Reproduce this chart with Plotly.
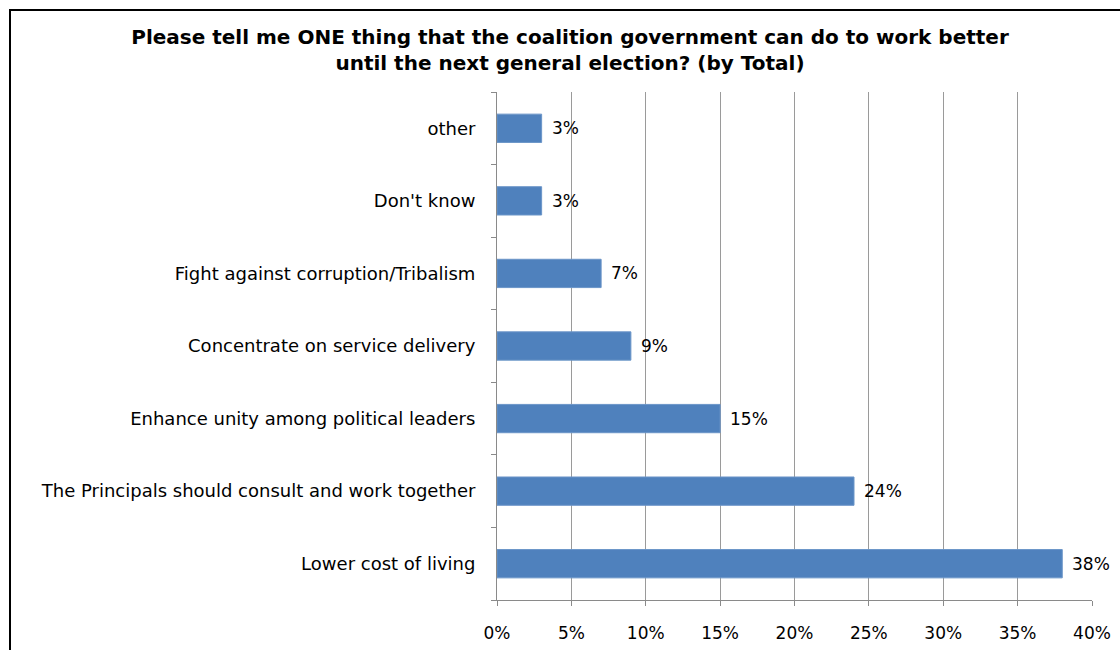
import plotly.graph_objects as go

# Survey answers, listed from the bottom bar upwards
categories = [
    "Lower cost of living",
    "The Principals should consult and work together",
    "Enhance unity among political leaders",
    "Concentrate on service delivery",
    "Fight against corruption/Tribalism",
    "Don't know",
    "other",
]
values = [38, 24, 15, 9, 7, 3, 3]
x_ticks = [0, 5, 10, 15, 20, 25, 30, 35, 40]
x_tick_labels = [f"{v}%" for v in x_ticks]

FONT = "DejaVu Sans, Noto Sans, sans-serif"

fig = go.Figure(
    go.Bar(
        x=values,
        y=categories,
        orientation="h",
        marker=dict(color="#4f81bd", line=dict(color="#6b95c8", width=1)),
        width=0.39,
        hoverinfo="skip",
    )
)

# value labels just past the end of each bar
for cat, val in zip(categories, values):
    fig.add_annotation(
        x=val, y=cat, text=f"{val}%", showarrow=False,
        xanchor="left", xshift=8, font=dict(family=FONT, size=17, color="#000"),
    )

# outer frame of the chart
fig.add_shape(
    type="rect", xref="paper", yref="paper",
    x0=(10 - 497) / 595, x1=1.2, y0=-0.3, y1=1 + (92 - 10) / 508,
    line=dict(color="#000", width=2), layer="below",
)

fig.update_layout(
    width=1120,
    height=650,
    margin=dict(l=497, r=28, t=92, b=50, autoexpand=False),
    paper_bgcolor="white",
    plot_bgcolor="white",
    showlegend=False,
    title=dict(
        text="Please tell me ONE thing that the coalition government can do to work better<br>until the next general election? (by Total)",
        x=570 / 1120, xref="container", xanchor="center",
        y=1 - 44 / 650, yref="container", yanchor="top",
        font=dict(family=FONT, size=20, color="#000", weight="bold"),
    ),
    xaxis=dict(
        range=[0, 40],
        tickvals=x_ticks,
        ticktext=x_tick_labels,
        showgrid=True,
        gridcolor="#9a9a9a",
        gridwidth=1,
        showline=True,
        linecolor="#8a8a8a",
        linewidth=1,
        ticks="outside",
        ticklen=5,
        tickcolor="#8a8a8a",
        zeroline=False,
        automargin=False,
        ticklabelstandoff=13,
        tickfont=dict(family=FONT, size=17, color="#000"),
        fixedrange=True,
    ),
    yaxis=dict(
        showline=True,
        linecolor="#8a8a8a",
        linewidth=1,
        ticks="outside",
        tickson="boundaries",
        ticklen=5,
        tickcolor="#8a8a8a",
        showgrid=False,
        automargin=False,
        ticklabelstandoff=17,
        tickfont=dict(family=FONT, size=18, color="#000"),
        fixedrange=True,
    ),
)

fig.write_html("out.html")
